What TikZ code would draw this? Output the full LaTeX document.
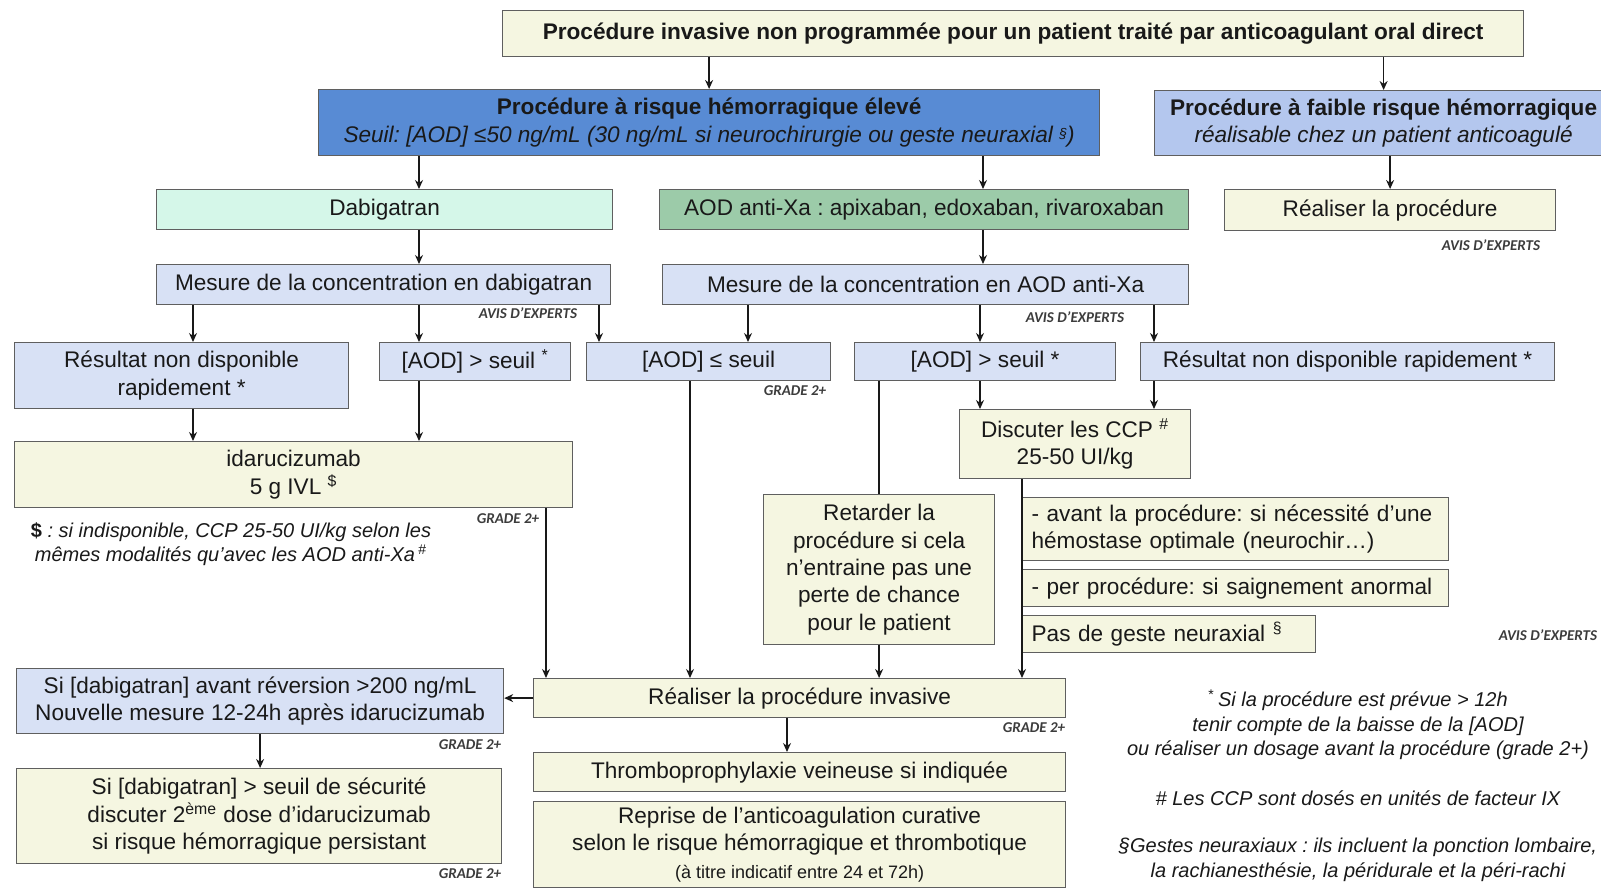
\documentclass[tikz,border=0pt]{standalone}
\usepackage{fontspec}
\setmainfont{Liberation Sans}
\newfontfamily\carl{Carlito}
\usetikzlibrary{arrows.meta}
\definecolor{cream}{RGB}{245,246,225}
\definecolor{lblue}{RGB}{216,225,245}
\definecolor{hblue}{RGB}{88,139,212}
\definecolor{lowblue}{RGB}{180,199,238}
\definecolor{mint}{RGB}{213,247,233}
\definecolor{dgreen}{RGB}{156,203,169}
\definecolor{bordc}{RGB}{95,95,95}
\definecolor{linec}{RGB}{25,25,25}
\definecolor{txt}{RGB}{25,25,25}
\definecolor{tagc}{RGB}{60,60,60}
\def\u{0.5pt}
\frenchspacing
\begin{document}
\frenchspacing
\begin{tikzpicture}[x=0.5pt,y=-0.5pt,
  box/.style={draw=bordc, line width=0.6pt, inner sep=1pt, align=center, anchor=north west,
    font=\fontsize{11.3}{13.7}\selectfont, text=txt},
  arr/.style={-{Stealth[length=4.5pt,width=4pt]}, line width=0.65pt, draw=linec},
  ln/.style={line width=0.65pt, draw=linec},
  tag/.style={font=\carl\bfseries\itshape\fontsize{7.5}{9}\selectfont, text=tagc, inner sep=0pt},
  note/.style={font=\itshape\fontsize{10}{12.3}\selectfont, align=center, inner sep=0pt, text=txt}]
\clip (0,0) rectangle (1601,889);
\fill[white] (0,0) rectangle (1601,889);

% columns
\coordinate (c193) at (193,0);
\coordinate (c419) at (419,0);
\coordinate (c599) at (599,0);
\coordinate (c748) at (748,0);
\coordinate (c980) at (980,0);
\coordinate (c983) at (983,0);
\coordinate (c1154) at (1154,0);
\coordinate (c546) at (546,0);
\coordinate (c690) at (690,0);
\coordinate (c1022) at (1022,0);
\coordinate (c787) at (787,0);

% boxes
\node[box, fill=cream, minimum width=1021*\u, minimum height=46*\u] (top) at (502,10)
  {\bfseries Procédure invasive non programmée pour un patient traité par anticoagulant oral direct};
\node[box, fill=hblue, minimum width=781*\u, minimum height=66*\u] (high) at (318,89)
  {\bfseries Procédure à risque hémorragique élevé\\
   \itshape Seuil: [AOD] ≤50 ng/mL (30 ng/mL si neurochirurgie ou geste neuraxial {\fontsize{7}{8}\selectfont\raisebox{2pt}{\S}})};
\node[box, fill=lowblue, minimum width=458*\u, minimum height=65*\u] (low) at (1154,90)
  {\bfseries Procédure à faible risque hémorragique\\ \itshape réalisable chez un patient anticoagulé};
\node[box, fill=cream, minimum width=331*\u, minimum height=41*\u] (real) at (1224,189)
  {Réaliser la procédure};
\node[box, fill=mint, minimum width=456*\u, minimum height=40*\u] (dab) at (156,189) {Dabigatran};
\node[box, fill=dgreen, minimum width=529*\u, minimum height=40*\u] (xa) at (659,189)
  {AOD anti-Xa : apixaban, edoxaban, rivaroxaban};
\node[box, fill=lblue, minimum width=454*\u, minimum height=40*\u] (mdab) at (156,264)
  {Mesure de la concentration en dabigatran};
\node[box, fill=lblue, minimum width=526*\u, minimum height=40*\u] (mxa) at (662,264)
  {Mesure de la concentration en AOD anti-Xa};
\node[box, fill=lblue, minimum width=334*\u, minimum height=66*\u] (rnd1) at (14,342)
  {Résultat non disponible\\rapidement *};
\node[box, fill=lblue, minimum width=191*\u, minimum height=38*\u] (sup1) at (379,342)
  {[AOD] > seuil \textsuperscript{*}};
\node[box, fill=lblue, minimum width=244*\u, minimum height=38*\u] (inf) at (586,342)
  {[AOD] ≤ seuil};
\node[box, fill=lblue, minimum width=261*\u, minimum height=38*\u] (sup2) at (854,342)
  {[AOD] > seuil *};
\node[box, fill=lblue, minimum width=414*\u, minimum height=38*\u] (rnd2) at (1140,342)
  {Résultat non disponible rapidement *};
\node[box, fill=cream, minimum width=558*\u, minimum height=66*\u] (ida) at (14,441)
  {idarucizumab\\5 g IVL \textsuperscript{\$}};
\node[box, fill=cream, minimum width=231*\u, minimum height=69*\u] (ccp) at (959,409)
  {Discuter les CCP \textsuperscript{\#}\\25-50 UI/kg};
\node[box, fill=cream, minimum width=231*\u, minimum height=150*\u] (ret) at (763,494)
  {Retarder la\\procédure si cela\\n’entraine pas une\\perte de chance\\pour le patient};
\node[box, fill=cream, minimum width=426*\u, minimum height=63*\u, align=left,
  inner xsep=9*\u, text width=408*\u] (av) at (1022,497)
  {- avant la procédure: si nécessité d’une\\hémostase optimale (neurochir…)};
\node[box, fill=cream, minimum width=426*\u, minimum height=37*\u, align=left,
  inner xsep=9*\u, text width=408*\u] (per) at (1022,569)
  {- per procédure: si saignement anormal};
\node[box, fill=cream, minimum width=293*\u, minimum height=37*\u, align=left,
  inner xsep=9*\u, text width=275*\u] (pas) at (1022,615)
  {Pas de geste neuraxial \textsuperscript{\S}};
\node[box, fill=cream, minimum width=532*\u, minimum height=39*\u] (rinv) at (533,678)
  {Réaliser la procédure invasive};
\node[box, fill=lblue, minimum width=487*\u, minimum height=65*\u] (sid) at (16,668)
  {Si [dabigatran] avant réversion >200 ng/mL\\Nouvelle mesure 12-24h après idarucizumab};
\node[box, fill=cream, minimum width=485*\u, minimum height=95*\u] (sis) at (16,768)
  {Si [dabigatran] > seuil de sécurité\\discuter 2\textsuperscript{ème} dose d’idarucizumab\\si risque hémorragique persistant};
\node[box, fill=cream, minimum width=532*\u, minimum height=39*\u] (thr) at (533,752)
  {Thromboprophylaxie veineuse si indiquée};
\node[box, fill=cream, minimum width=532*\u, minimum height=86*\u] (rep) at (533,801)
  {Reprise de l’anticoagulation curative\\selon le risque hémorragique et thrombotique\\
   {\fontsize{9}{11}\selectfont (à titre indicatif entre 24 et 72h)}};

% tags
\node[tag] (t1) at (1491,245) {AVIS D’EXPERTS};
\node[tag] (t2) at (528,313) {AVIS D’EXPERTS};
\node[tag] (t3) at (1075,317) {AVIS D’EXPERTS};
\node[tag] (t4) at (795,391) {GRADE 2+};
\node[tag] (t5) at (508,519) {GRADE 2+};
\node[tag] (t6) at (1548,635) {AVIS D’EXPERTS};
\node[tag] (t7) at (1034,728) {GRADE 2+};
\node[tag] (t8) at (470,745) {GRADE 2+};
\node[tag] (t9) at (470,874) {GRADE 2+};

% notes
\node[note] (n1) at (231,544) {{\upshape\bfseries\$} : si indisponible, CCP 25-50 UI/kg selon les\\
  mêmes modalités qu'avec les AOD anti-Xa\,\textsuperscript{\upshape\#}};
\node[note] (n2) at (1358,725) {\textsuperscript{\upshape *}\,Si la procédure est prévue > 12h\\
  tenir compte de la baisse de la [AOD]\\ou réaliser un dosage avant la procédure (grade 2+)};
\node[note] (n3) at (1358,798) {\# Les CCP sont dosés en unités de facteur IX};
\node[note] (n4) at (1358,860) {\S Gestes neuraxiaux : ils incluent la ponction lombaire,\\
  la rachianesthésie, la péridurale et la péri-rachi};

% connectors
\draw[arr] (top.south -| high.north) -- (high.north);
\draw[arr] (top.south -| low.north) -- (low.north);
\draw[arr] (low.south -| real.north) -- (real.north);
\draw[arr] (high.south -| c419) -- (dab.north -| c419);
\draw[arr] (high.south -| c983) -- (xa.north -| c983);
\draw[arr] (dab.south -| c419) -- (mdab.north -| c419);
\draw[arr] (xa.south -| c983) -- (mxa.north -| c983);
\draw[arr] (mdab.south -| c193) -- (rnd1.north -| c193);
\draw[arr] (mdab.south -| c419) -- (sup1.north -| c419);
\draw[arr] (mdab.south -| c599) -- (inf.north -| c599);
\draw[arr] (mxa.south -| c748) -- (inf.north -| c748);
\draw[arr] (mxa.south -| c980) -- (sup2.north -| c980);
\draw[arr] (mxa.south -| c1154) -- (rnd2.north -| c1154);
\draw[arr] (rnd1.south -| c193) -- (ida.north -| c193);
\draw[arr] (sup1.south -| c419) -- (ida.north -| c419);
\draw[arr] (sup2.south -| c980) -- (ccp.north -| c980);
\draw[arr] (rnd2.south -| c1154) -- (ccp.north -| c1154);
\draw[ln] (sup2.south -| ret.north) -- (ret.north);
\draw[arr] (ret.south) -- (rinv.north -| ret.south);
\draw[arr] (ida.south -| c546) -- (rinv.north -| c546);
\draw[arr] (inf.south -| c690) -- (rinv.north -| c690);
\draw[arr] (ccp.south -| c1022) -- (rinv.north -| c1022);
\draw[arr] (rinv.west) -- (sid.east |- rinv.west);
\draw[arr] (sid.south) -- (sis.north -| sid.south);
\draw[arr] (rinv.south -| c787) -- (thr.north -| c787);
\end{tikzpicture}
\end{document}
